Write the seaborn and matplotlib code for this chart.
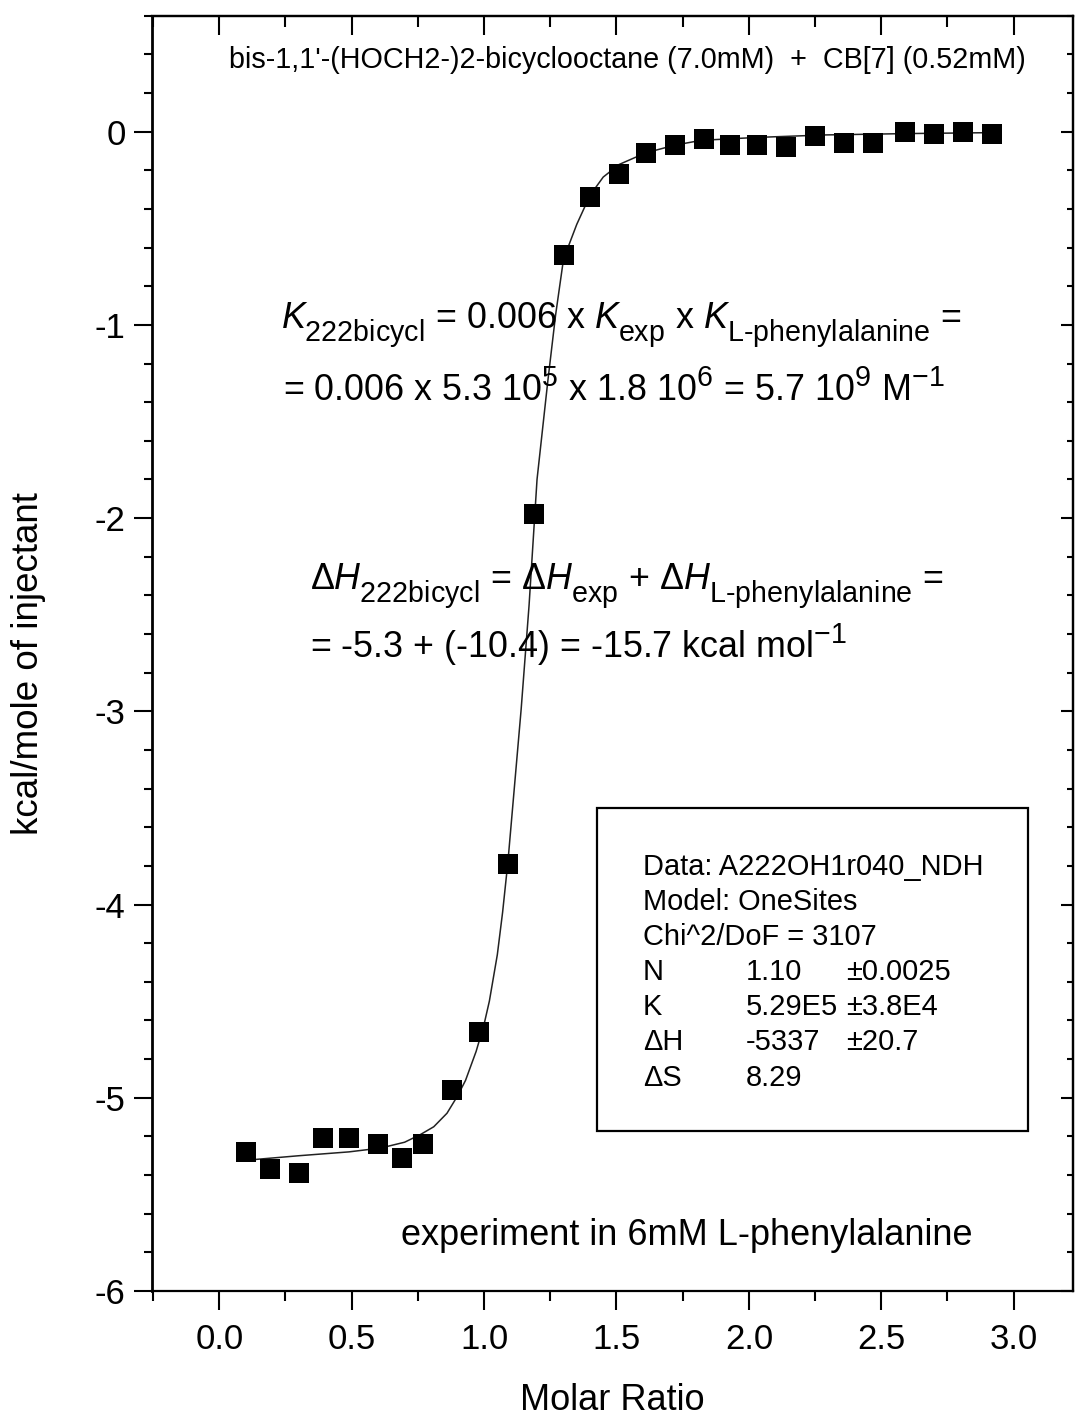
import matplotlib
matplotlib.use("Agg")
import matplotlib.pyplot as plt
import matplotlib._mathtext as _mt
import seaborn as sns
import numpy as np
import pandas as pd
from matplotlib.patches import Rectangle
from matplotlib.ticker import MultipleLocator, NullFormatter

# ---------------- data ----------------
molar_ratio = [0.10, 0.19, 0.30, 0.39, 0.49, 0.60, 0.69, 0.77, 0.88, 0.98,
               1.09, 1.19, 1.30, 1.40, 1.51, 1.61, 1.72, 1.83, 1.93, 2.03,
               2.14, 2.25, 2.36, 2.47, 2.59, 2.70, 2.81, 2.92]
heat = [-5.28, -5.37, -5.39, -5.21, -5.21, -5.24, -5.31, -5.24, -4.96, -4.66,
        -3.79, -1.98, -0.64, -0.34, -0.22, -0.11, -0.07, -0.04, -0.07, -0.07,
        -0.08, -0.02, -0.06, -0.06, 0.00, -0.01, 0.00, -0.01]

fit_x = [0.10, 0.13, 0.30, 0.49, 0.61, 0.70, 0.76, 0.81, 0.86, 0.90, 0.93,
         0.97, 1.00, 1.02, 1.05, 1.07, 1.09, 1.14, 1.17, 1.20, 1.24, 1.27,
         1.30, 1.35, 1.40, 1.45, 1.51, 1.61, 1.72, 1.82, 2.03, 2.29, 2.60, 2.93]
fit_y = [-5.32, -5.32, -5.30, -5.28, -5.26, -5.23, -5.19, -5.15, -5.08, -4.99,
         -4.91, -4.76, -4.62, -4.50, -4.26, -4.04, -3.78, -2.99, -2.45, -1.80,
         -1.30, -0.95, -0.66, -0.48, -0.33, -0.235, -0.17, -0.11, -0.07, -0.045,
         -0.03, -0.017, -0.01, -0.005]

x_ticks = [0.0, 0.5, 1.0, 1.5, 2.0, 2.5, 3.0]
x_ticklabels = ["0.0", "0.5", "1.0", "1.5", "2.0", "2.5", "3.0"]
y_ticks = [0, -1, -2, -3, -4, -5, -6]
y_ticklabels = ["0", "-1", "-2", "-3", "-4", "-5", "-6"]

title_text = "bis-1,1'-(HOCH2-)2-bicyclooctane (7.0mM)  +  CB[7] (0.52mM)"
eq_line1 = (r"$K_{\mathrm{222bicycl}}$ = 0.006 x $K_{\mathrm{exp}}$ x "
            r"$K_{\text{L-phenylalanine}}$ =")
eq_line2 = r"= 0.006 x 5.3 10$^{5}$ x 1.8 10$^{6}$ = 5.7 10$^{9}$ M$^{-1}$"
eq_line3 = (r"Δ$H_{\mathrm{222bicycl}}$ = Δ$H_{\mathrm{exp}}$ + "
            r"Δ$H_{\text{L-phenylalanine}}$ =")
eq_line4 = r"= -5.3 + (-10.4) = -15.7 kcal mol$^{-1}$"
box_col1 = ["Data: A222OH1r040_NDH", "Model: OneSites", "Chi^2/DoF = 3107",
            "N", "K", "ΔH", "ΔS"]
box_col2 = ["", "", "", "1.10", "5.29E5", "-5337", "8.29"]
box_col3 = ["", "", "", "±0.0025", "±3.8E4", "±20.7", ""]
note_text = "experiment in 6mM L-phenylalanine"
x_label = "Molar Ratio"
y_label = "kcal/mole of injectant"

# ---------------- style ----------------
sns.set_theme(style="ticks")
plt.rcParams["font.family"] = ["Liberation Sans", "DejaVu Sans"]
plt.rcParams["mathtext.fontset"] = "custom"
plt.rcParams["mathtext.rm"] = "Liberation Sans"
plt.rcParams["mathtext.it"] = "Liberation Sans:italic"
plt.rcParams["mathtext.bf"] = "Liberation Sans:bold"
plt.rcParams["axes.linewidth"] = 1.6
plt.rcParams["text.color"] = "black"
plt.rcParams["axes.labelcolor"] = "black"
plt.rcParams["xtick.color"] = "black"
plt.rcParams["ytick.color"] = "black"
plt.rcParams["axes.edgecolor"] = "black"
# larger and lower subscripts, as in the reference
_mt.SHRINK_FACTOR = 0.8
try:
    _mt.FontConstantsBase.sub1 = 0.65
except Exception:
    pass

W, H = 1075, 1419
fig = plt.figure(figsize=(W / 100, H / 100), dpi=100)

L_px, R_px, T_px, B_px = 152, 1073, 15.7, 1291
ax = fig.add_axes([L_px / W, 1 - B_px / H, (R_px - L_px) / W, (B_px - T_px) / H])

def fx(px):
    return px / W

def fy(py):
    return 1 - py / H

df_pts = pd.DataFrame({"x": molar_ratio, "y": heat})
df_fit = pd.DataFrame({"x": fit_x, "y": fit_y})

sns.lineplot(data=df_fit, x="x", y="y", ax=ax, color="#222222", lw=1.1,
             sort=False, estimator=None, zorder=2)
sns.scatterplot(data=df_pts, x="x", y="y", ax=ax, marker="s", s=14 ** 2,
                color="black", edgecolor="black", linewidth=0, zorder=3)

ax.set_xlim(-0.254, 3.224)
ax.set_ylim(-6.0, 0.6)

ax.set_xticks(x_ticks)
ax.set_xticklabels(x_ticklabels)
ax.set_yticks(y_ticks)
ax.set_yticklabels(y_ticklabels)
ax.xaxis.set_minor_locator(MultipleLocator(0.25))
ax.yaxis.set_minor_locator(MultipleLocator(0.2))

ax.tick_params(axis="x", which="major", direction="out", length=14, width=1.5,
               labelsize=25, pad=9, top=False, colors="black")
ax.tick_params(axis="x", which="minor", direction="out", length=7, width=1.5,
               top=False)
ax.tick_params(axis="y", which="major", direction="out", length=13, width=1.5,
               labelsize=25, pad=6, right=False, colors="black")
ax.tick_params(axis="y", which="minor", direction="out", length=6, width=1.5,
               right=False)

for s in ax.spines.values():
    s.set_visible(True)
    s.set_color("black")
    s.set_linewidth(1.6)
ax.spines["left"].set_linewidth(2.0)

top = ax.secondary_xaxis("top")
top.set_xticks(x_ticks)
top.xaxis.set_minor_locator(MultipleLocator(0.25))
top.xaxis.set_major_formatter(NullFormatter())
top.tick_params(which="major", direction="in", length=14, width=1.5)
top.tick_params(which="minor", direction="in", length=8, width=1.5)

right = ax.secondary_yaxis("right")
right.set_yticks(y_ticks)
right.yaxis.set_minor_locator(MultipleLocator(0.2))
right.yaxis.set_major_formatter(NullFormatter())
right.tick_params(which="major", direction="in", length=9, width=1.5)
right.tick_params(which="minor", direction="in", length=4, width=1.5)

ax.set_xlabel(x_label, fontsize=26)
ax.xaxis.label.set_va("baseline")
ax.set_ylabel(y_label, fontsize=26.5)
ax.xaxis.set_label_coords(0.5, (B_px - 1410) / (B_px - T_px))
ax.yaxis.set_label_coords((46 - L_px) / (R_px - L_px), (B_px - 664) / (B_px - T_px))

# ---------------- texts ----------------
fig.text(fx(229), fy(68), title_text, fontsize=20.7, ha="left", va="baseline")

fig.text(fx(281), fy(328), eq_line1, fontsize=25.8, ha="left", va="baseline")
fig.text(fx(283), fy(401), eq_line2, fontsize=25.8, ha="left", va="baseline")
fig.text(fx(310), fy(589), eq_line3, fontsize=25.8, ha="left", va="baseline")
fig.text(fx(310), fy(658), eq_line4, fontsize=25.8, ha="left", va="baseline")

box = Rectangle((fx(597), fy(1131)), fx(1028) - fx(597), fy(808) - fy(1131),
                transform=fig.transFigure, fill=False, edgecolor="black",
                linewidth=1.6, zorder=5)
fig.add_artist(box)

baselines = [875, 910, 945, 980, 1015, 1050, 1086]
for i, b in enumerate(baselines):
    fig.text(fx(643), fy(b), box_col1[i], fontsize=20.9, ha="left", va="baseline")
    if box_col2[i]:
        fig.text(fx(746), fy(b), box_col2[i], fontsize=20.9, ha="left", va="baseline")
    if box_col3[i]:
        fig.text(fx(846), fy(b), box_col3[i], fontsize=20.9, ha="left", va="baseline")

fig.text(fx(401), fy(1245), note_text, fontsize=26, ha="left", va="baseline")

fig.savefig("out.png", dpi=100)
